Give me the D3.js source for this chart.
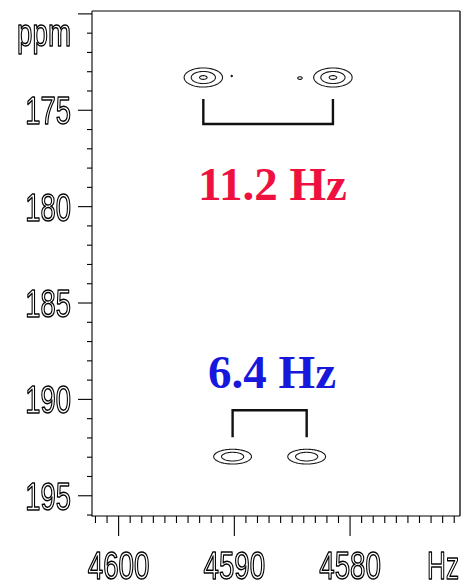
<!DOCTYPE html>
<html><head><meta charset="utf-8">
<script src="https://cdn.jsdelivr.net/npm/d3@7"></script>
<style>html,body{margin:0;background:#fff} text{-webkit-font-smoothing:antialiased}</style>
</head><body>
<svg id="c" width="465" height="585"></svg>
<script>
// Axis ranges (frequency axis runs right to left)
const hzDomain = [4602.3, 4570.5];
const ppmDomain = [169.85, 196.05];
const ppmTickLabels = [175, 180, 185, 190, 195];
const hzTickLabels = [4600, 4590, 4580];

// Cross peaks: position, relative height and line widths
const peakHz   = [4592.68, 4581.48, 4590.15, 4583.75, 4590.20, 4584.37];
const peakPpm  = [173.30, 173.30, 192.97, 192.97, 173.22, 173.33];
const peakAmp  = [1.00, 1.00, 0.90, 0.90, 0.24, 0.29];
const peakSdHz = [1.04, 1.04, 1.07, 1.07, 0.20, 0.40];
const peakSdPpm= [0.31, 0.31, 0.25, 0.25, 0.10, 0.15];
const contourLevels = [0.28, 0.60, 0.95];

// Splittings: the two peaks joined by each bracket
const splitLabels = ["11.2 Hz", "6.4 Hz"];
const splitHz = [[4592.68, 4581.48], [4590.15, 4583.75]];
const splitPpmTop = [174.42, 190.56];
const splitPpmBottom = [175.71, 191.96];
const splitHorizontalAt = [175.71, 190.56];
const splitLabelHz = [4586.7, 4586.74];
const splitLabelPpm = [179.66, 189.41];
const splitColors = ["#ee1140", "#1818dc"];

const svg = d3.select("#c");
const L = 92, R = 460, T = 11, B = 516;
const x = d3.scaleLinear().domain(hzDomain).range([L, R]);
const y = d3.scaleLinear().domain(ppmDomain).range([T, B]);

// ---- contours ----
const w = R - L, h = B - T;
const grid = new Float64Array(w * h);
for (let j = 0; j < h; j++) {
  const ppm = y.invert(T + j + 0.5);
  for (let i = 0; i < w; i++) {
    const hz = x.invert(L + i + 0.5);
    let v = 0;
    for (let k = 0; k < peakHz.length; k++) {
      const dx = (hz - peakHz[k]) / peakSdHz[k];
      const dy = (ppm - peakPpm[k]) / peakSdPpm[k];
      v += peakAmp[k] * Math.exp(-0.5 * (dx * dx + dy * dy));
    }
    grid[j * w + i] = v;
  }
}
const contours = d3.contours().size([w, h]).thresholds(contourLevels)(grid);
const path = d3.geoPath(d3.geoIdentity().translate([L, T]));
svg.append("g").selectAll("path").data(contours).join("path")
  .attr("d", path).attr("fill", "none")
  .attr("stroke", "#1a1a1a").attr("stroke-width", 1.1)
  .attr("stroke-linejoin", "round");

// ---- brackets ----
const br = svg.append("g").attr("fill", "none").attr("stroke", "#111")
  .attr("stroke-width", 2.4);
splitHz.forEach((pair, k) => {
  const x1 = x(pair[0]), x2 = x(pair[1]);
  const yt = y(splitPpmTop[k]), yb = y(splitPpmBottom[k]), yh = y(splitHorizontalAt[k]);
  br.append("path").attr("d",
    `M${x1},${yt}L${x1},${yb}M${x2},${yt}L${x2},${yb}M${x1 - 1.2},${yh}L${x2 + 1.2},${yh}`);
});
splitLabels.forEach((t, k) => {
  svg.append("text").attr("x", x(splitLabelHz[k])).attr("y", y(splitLabelPpm[k]))
    .attr("text-anchor", "middle")
    .attr("font-family", "'Liberation Serif','Times New Roman',serif")
    .attr("font-weight", "bold").attr("font-size", 47)
    .attr("fill", splitColors[k]).text(t);
});

// ---- frame ----
svg.append("line").attr("x1", L).attr("x2", R).attr("y1", T).attr("y2", T)
  .attr("stroke", "#808080").attr("stroke-width", 2);
svg.append("line").attr("x1", R).attr("x2", R).attr("y1", T).attr("y2", B)
  .attr("stroke", "#333").attr("stroke-width", 1.6);
svg.append("line").attr("x1", L).attr("x2", L).attr("y1", T).attr("y2", B + 0.5)
  .attr("stroke", "#000").attr("stroke-width", 1.1);
svg.append("line").attr("x1", L).attr("x2", R).attr("y1", B).attr("y2", B)
  .attr("stroke", "#000").attr("stroke-width", 1.1);

// ---- ticks ----
const ppmTicks = d3.range(170, 197, 1);
const hzTicks = d3.range(4571, 4603, 1);
const tk = svg.append("g").attr("stroke", "#000").attr("stroke-width", 1.1);
ppmTicks.forEach(v => {
  const len = v % 5 === 0 ? 14 : 5;
  tk.append("line").attr("x1", L - len).attr("x2", L)
    .attr("y1", y(v)).attr("y2", y(v));
});
hzTicks.forEach(v => {
  const len = v % 10 === 0 ? 20 : 7;
  tk.append("line").attr("x1", x(v)).attr("x2", x(v))
    .attr("y1", B).attr("y2", B + len);
});

// ---- outlined condensed labels ----
const labelLayer = svg.append("g").attr("opacity", 0.995);
function outlined(t, px, py, anchor, size, sx) {
  labelLayer.append("text")
    .attr("transform", `translate(${px},${py}) scale(${sx},1)`)
    .attr("text-anchor", anchor)
    .attr("font-family", "'Liberation Sans',Arial,sans-serif")
    .attr("font-size", size)
    .attr("fill", "#fff").attr("stroke", "#000").attr("stroke-width", 1.5)
    .attr("stroke-linejoin", "round")
    .text(t);
}
ppmTickLabels.forEach(v => outlined(String(v), 71, y(v) + 14, "end", 38, 0.72));
hzTickLabels.forEach(v => outlined(String(v), x(v), 579, "middle", 38, 0.73));
outlined("ppm", 71, 46, "end", 38, 0.73);
outlined("Hz", 459, 579, "end", 39, 0.67);
</script>
</body></html>
